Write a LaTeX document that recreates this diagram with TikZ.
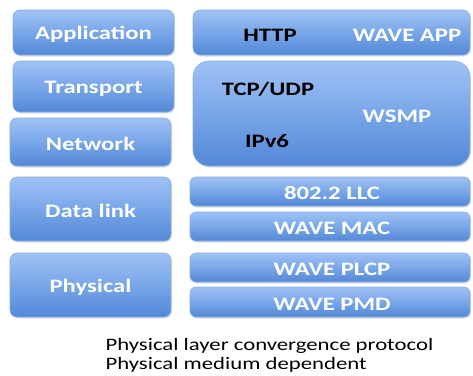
\documentclass[tikz,border=0pt]{standalone}
\usepackage{fontspec}
\setmainfont{Carlito}[FakeStretch=1.3]
\usetikzlibrary{shadows}
\definecolor{btop}{HTML}{A0C2F5}
\definecolor{bmid}{HTML}{78A6E8}
\definecolor{bbot}{HTML}{5387D7}
\definecolor{bedge}{HTML}{86AEE6}
\tikzset{
  layer/.style={draw=bedge, line width=0.6pt, top color=btop, bottom color=bbot, middle color=bmid,
    drop shadow={shadow xshift=1pt, shadow yshift=-1.5pt, opacity=0.25}},
  wtxt/.style={font=\bfseries\fontsize{19}{21}\selectfont, text=white},
  ktxt/.style={font=\bfseries\fontsize{19}{21}\selectfont, text=black},
  note/.style={font=\fontsize{17.5}{19}\selectfont, text=black, anchor=west}
}
\begin{document}
\begin{tikzpicture}[x=1pt,y=-1pt]
\useasboundingbox (0,0) rectangle (473,375);
% left column
\path[layer, rounded corners=7pt] (13,10) rectangle (174,55);
\path[layer, rounded corners=7pt] (13,61) rectangle (174,112);
\path[layer, rounded corners=7pt] (10,118) rectangle (171,166);
\path[layer, rounded corners=7pt] (10,177) rectangle (171,241);
\path[layer, rounded corners=7pt] (10,253) rectangle (171,317);
\node[wtxt] (app) at (93.5,34.5) {Application};
\node[wtxt] (tra) at (93.5,88.5) {Transport};
\node[wtxt] (net) at (90.5,144) {Network};
\node[wtxt] (dl) at (90.5,211) {Data link};
\node[wtxt] (phy) at (90.5,287) {Physical};
% right column
\path[layer, rounded corners=7pt] (193,10) rectangle (470,55);
\path[layer, rounded corners=16pt] (193,61) rectangle (470,166);
\path[layer, rounded corners=6pt] (190,177) rectangle (470,206);
\path[layer, rounded corners=6pt] (190,212) rectangle (470,241);
\path[layer, rounded corners=6pt] (190,253) rectangle (470,282);
\path[layer, rounded corners=6pt] (190,287) rectangle (470,317);
\node[ktxt] (http) at (270,35) {HTTP};
\node[wtxt] (wapp) at (407,35) {WAVE APP};
\node[ktxt] (tcp) at (268,89) {TCP/UDP};
\node[wtxt] (wsmp) at (397,116) {WSMP};
\node[ktxt] (ipv6) at (267,141) {IPv6};
\node[wtxt] (llc) at (332,193) {802.2 LLC};
\node[wtxt] (mac) at (332,228) {WAVE MAC};
\node[wtxt] (plcp) at (332,269) {WAVE PLCP};
\node[wtxt] (pmd) at (332,304) {WAVE PMD};
% notes
\node[note] (n1) at (102,346) {Physical layer convergence protocol};
\node[note] (n2) at (102,365) {Physical medium dependent};
\end{tikzpicture}
\end{document}
